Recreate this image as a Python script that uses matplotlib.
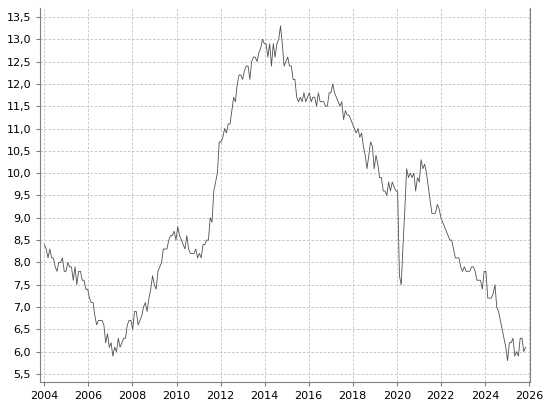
import numpy as np
import matplotlib.pyplot as plt
from matplotlib.ticker import FuncFormatter, MultipleLocator

start_year = 2004
values = [
    8.4, 8.3, 8.1, 8.3, 8.1, 8.1, 7.9, 7.8, 8.0, 8.0, 8.1, 7.8,
    7.8, 8.0, 7.9, 7.9, 7.6, 7.9, 7.5, 7.8, 7.8, 7.6, 7.6, 7.4,
    7.4, 7.2, 7.1, 7.1, 6.8, 6.6, 6.7, 6.7, 6.7, 6.6, 6.2, 6.4,
    6.1, 6.2, 5.9, 6.1, 6.0, 6.3, 6.1, 6.2, 6.3, 6.3, 6.6, 6.7,
    6.7, 6.5, 6.9, 6.9, 6.6, 6.7, 6.8, 7.0, 7.1, 6.9, 7.2, 7.4,
    7.7, 7.5, 7.4, 7.8, 7.9, 8.0, 8.3, 8.3, 8.3, 8.5, 8.6, 8.6,
    8.7, 8.5, 8.8, 8.6, 8.5, 8.4, 8.3, 8.6, 8.3, 8.2, 8.2, 8.2,
    8.3, 8.1, 8.2, 8.1, 8.4, 8.4, 8.5, 8.5, 9.0, 8.9, 9.6, 9.8,
    10.0, 10.7, 10.7, 10.8, 11.0, 10.9, 11.1, 11.1, 11.4, 11.7, 11.6, 12.0,
    12.2, 12.2, 12.1, 12.3, 12.4, 12.4, 12.1, 12.5, 12.6, 12.6, 12.5, 12.7,
    12.8, 13.0, 12.9, 12.9, 12.6, 12.9, 12.4, 12.9, 12.6, 12.9, 13.0, 13.3,
    12.9, 12.4, 12.5, 12.6, 12.4, 12.4, 12.1, 12.1, 11.7, 11.6, 11.7, 11.6,
    11.8, 11.6, 11.7, 11.8, 11.6, 11.7, 11.7, 11.5, 11.8, 11.6, 11.6, 11.6,
    11.5, 11.5, 11.8, 11.8, 12.0, 11.8, 11.7, 11.6, 11.5, 11.6, 11.2, 11.4,
    11.3, 11.3, 11.2, 11.1, 11.0, 10.9, 11.0, 10.8, 10.9, 10.6, 10.4, 10.1,
    10.4, 10.7, 10.6, 10.1, 10.4, 10.2, 9.9, 9.9, 9.6, 9.6, 9.5, 9.8,
    9.6, 9.8, 9.7, 9.6, 9.6, 7.7, 7.5, 8.4, 9.2, 10.1, 9.9, 10.0,
    9.9, 10.0, 9.6, 9.9, 9.8, 10.3, 10.1, 10.2, 10.0, 9.7, 9.4, 9.1,
    9.1, 9.1, 9.3, 9.2, 9.0, 8.9, 8.8, 8.7, 8.6, 8.5, 8.5, 8.3,
    8.1, 8.1, 8.1, 7.9, 7.8, 7.9, 7.8, 7.8, 7.8, 7.9, 7.9, 7.8,
    7.6, 7.6, 7.6, 7.4, 7.8, 7.8, 7.2, 7.2, 7.2, 7.3, 7.5, 7.0,
    6.9, 6.7, 6.5, 6.3, 6.1, 5.8, 6.2, 6.2, 6.3, 5.9, 6.0, 5.9,
    6.3, 6.3, 6.0, 6.1,
]
# spread the points so the series ends near late 2025 like the original
x = start_year + np.arange(len(values)) * (21.85 / (len(values) - 1))

fig = plt.figure(figsize=(5.45, 4.0), dpi=100)
ax = fig.add_axes([40 / 545, 1 - 382 / 400, 490 / 545, 374 / 400])
ax.plot(x, values, color='#505050', lw=0.6)

ax.set_xlim(2003.8, 2026.05)
ax.set_ylim(5.32, 13.7)
ax.xaxis.set_major_locator(MultipleLocator(2))
ax.yaxis.set_major_locator(MultipleLocator(0.5))
ax.yaxis.set_major_formatter(FuncFormatter(lambda v, p: f'{v:.1f}'.replace('.', ',')))
ax.xaxis.set_major_formatter(FuncFormatter(lambda v, p: f'{int(round(v))}'))
ax.grid(True, color='#c0c0c0', ls=(0, (3, 2)), lw=0.6)
ax.tick_params(labelsize=8, length=3, color='#808080')
ax.spines['top'].set_visible(False)
for s in ['left', 'bottom', 'right']:
    ax.spines[s].set_color('#808080')
fig.savefig('out.png', dpi=100)
